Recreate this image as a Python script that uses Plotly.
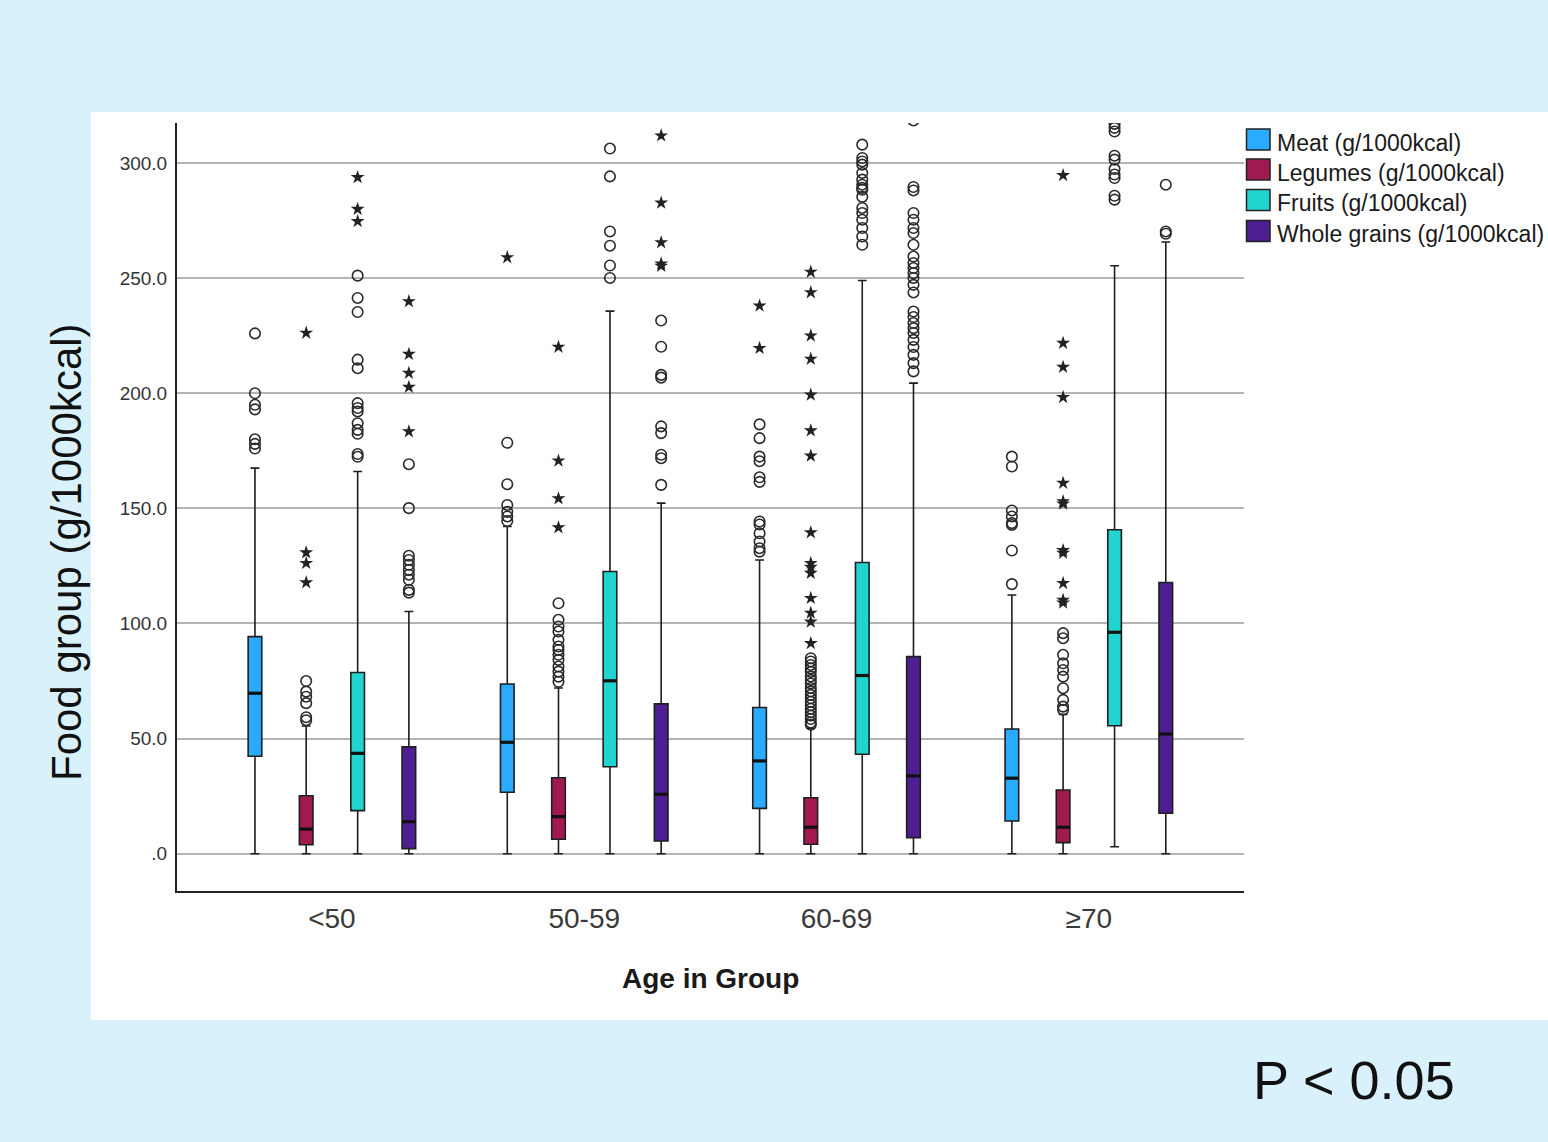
import plotly.graph_objects as go

# ---------------- data ----------------
groups = ['<50', '50-59', '60-69', '≥70']
series = ['Meat (g/1000kcal)', 'Legumes (g/1000kcal)', 'Fruits (g/1000kcal)', 'Whole grains (g/1000kcal)']
colors = ['#2aabff', '#a01a50', '#22d4cf', '#4e1f93']

meat_q1 = [42.3, 26.7, 19.7, 14.2]
meat_med = [69.7, 48.4, 40.3, 32.8]
meat_q3 = [94.3, 73.7, 63.5, 54.2]
meat_lo = [0, 0, 0, 0]
meat_hi = [167.5, 142.1, 127.6, 112.4]
meat_out = [[226, 200, 195, 193, 180, 178, 176],
            [178.5, 160.5, 151.5, 148.5, 146.5, 144.5],
            [186.5, 180.5, 172.5, 170.5, 163.5, 161.5, 144.3, 143, 139.2, 135.6, 132.7, 131.2],
            [172.5, 168.2, 149.1, 146.5, 143.6, 142.8, 131.7, 117.1]]
meat_ext = [[], [259], [238, 219.6], []]

leg_q1 = [3.9, 6.3, 4.1, 4.8]
leg_med = [10.7, 16.1, 11.5, 11.5]
leg_q3 = [25.2, 33.0, 24.3, 27.7]
leg_lo = [0, 0, 0, 0]
leg_hi = [55.5, 72.0, 54.5, 60.5]
leg_out = [[75, 70.4, 68.2, 65.4, 59.3, 58],
           [108.8, 101.6, 98.7, 96.5, 92.9, 90, 88.5, 86.4, 84.2, 81.3, 79.1, 76.9, 74.7],
           [84.9, 83.5, 82, 80.5, 79, 77, 75.5, 74, 72, 70.5, 69, 67.5, 66, 64.5, 63, 61.5, 60, 58.5, 57, 56],
           [95.8, 93.6, 86.4, 82.7, 79.8, 76.9, 71.9, 66.8, 63.9, 62.5]]
leg_ext = [[226.2, 130.8, 126.2, 117.8],
           [220.1, 170.7, 154.3, 141.7],
           [252.7, 243.8, 225, 214.9, 199.3, 183.8, 172.8, 139.5, 126.2, 124.5, 121.9, 111, 104.6, 100.7, 91.4],
           [294.7, 221.8, 211.4, 198.3, 161, 153, 152, 131.8, 130.6, 117.5, 110.2, 109]]

fru_q1 = [18.7, 37.8, 43.2, 55.6]
fru_med = [43.6, 75.1, 77.4, 96.2]
fru_q3 = [78.7, 122.6, 126.5, 140.7]
fru_lo = [0, 0, 0, 3.0]
fru_hi = [166.0, 235.7, 249.0, 255.4]
fru_out = [[251.1, 241.4, 235.3, 214.6, 210.9, 195.7, 193.6, 192.1, 187, 184.1, 182.4, 173.6, 172.4],
           [306.3, 294.2, 270.3, 264.1, 255.5, 250.1],
           [308, 302.2, 300.7, 299.3, 295.7, 292.8, 290.6, 289.2, 288.4, 285.3, 280.5, 278.3, 275.4, 271.8, 268.1, 264.5],
           [317, 315.3, 313.7, 303.2, 301.5, 297.4, 295, 293.5, 285.8, 284.1]]
fru_ext = [[293.8, 280.0, 274.7], [], [], []]

wg_q1 = [2.2, 5.5, 7.0, 17.6]
wg_med = [13.9, 25.8, 33.8, 52.0]
wg_q3 = [46.4, 65.1, 85.6, 117.8]
wg_lo = [0, 0, 0, 0]
wg_hi = [105.2, 152.3, 204.4, 265.7]
wg_out = [[169.2, 150.1, 129.4, 127.6, 125.5, 123.3, 121.2, 119, 114.6, 113.4],
          [231.6, 220.2, 208, 206.8, 185.6, 182.7, 173.3, 171.8, 160.2],
          [318.5, 289.6, 288.1, 278.3, 275.4, 271.8, 269.6, 264.5, 259.4, 256.6, 254.4, 252.2, 250.1,
           247.1, 243.8, 235.5, 233.1, 230.5, 228.3, 226.2, 223.2, 220.1, 216.7, 213.1, 209.5],
          [290.6, 270.3, 269.3]]
wg_ext = [[239.9, 217, 208.8, 202.7, 183.4], [311.9, 282.7, 265.5, 256.3, 255.3], [], []]

y_tickvals = [0, 50, 100, 150, 200, 250, 300]
y_ticktext = ['.0', '50.0', '100.0', '150.0', '200.0', '250.0', '300.0']

stats = [
    (meat_q1, meat_med, meat_q3, meat_lo, meat_hi, meat_out, meat_ext),
    (leg_q1, leg_med, leg_q3, leg_lo, leg_hi, leg_out, leg_ext),
    (fru_q1, fru_med, fru_q3, fru_lo, fru_hi, fru_out, fru_ext),
    (wg_q1, wg_med, wg_q3, wg_lo, wg_hi, wg_out, wg_ext),
]

# ---------------- layout geometry ----------------
W, H = 1548, 1142
PL, PR, PT, PB = 177, 1244, 123, 891
def px(x):
    return (x - PL) / (PR - PL)
def py(y):
    return (PB - y) / (PB - PT)

offsets = [-0.305, -0.102, 0.102, 0.305]
box_w = 0.054
LINE = '#1e1e1e'

fig = go.Figure()
gx = list(range(len(groups)))
for si, (q1, med, q3, lo, hi, out, ext) in enumerate(stats):
    xs = [g + offsets[si] for g in gx]
    fig.add_trace(go.Box(
        x=xs, q1=q1, median=med, q3=q3, lowerfence=lo, upperfence=hi,
        width=box_w, whiskerwidth=0.65, fillcolor=colors[si],
        line=dict(color=LINE, width=1.6), boxpoints=False,
        name=series[si], showlegend=False, hoverinfo='skip'))
    # thick median line
    mx, my = [], []
    for x, m in zip(xs, med):
        mx += [x - box_w / 2, x + box_w / 2, None]
        my += [m, m, None]
    fig.add_trace(go.Scatter(x=mx, y=my, mode='lines', line=dict(color='#111', width=3.2),
                             showlegend=False, hoverinfo='skip'))
    # outliers (circles)
    ox, oy = [], []
    for x, vals in zip(xs, out):
        ox += [x] * len(vals)
        oy += vals
    fig.add_trace(go.Scatter(x=ox, y=oy, mode='markers',
                             marker=dict(symbol='circle-open', size=10.5, color='#2a2a2a',
                                         line=dict(width=1.6, color='#2a2a2a')),
                             showlegend=False, hoverinfo='skip'))
    # extremes (stars)
    ex, ey = [], []
    for x, vals in zip(xs, ext):
        ex += [x] * len(vals)
        ey += vals
    if ex:
        fig.add_trace(go.Scatter(x=ex, y=ey, mode='markers',
                                 marker=dict(symbol='star', size=10.5, color='#222',
                                             line=dict(width=0)),
                                 showlegend=False, hoverinfo='skip'))

shapes = [
    # white slide panel
    dict(type='rect', xref='paper', yref='paper', x0=px(91), x1=px(1560), y0=py(1020), y1=py(112),
         fillcolor='white', line=dict(width=0), layer='below'),
]
annotations = []
# manual legend
leg_rows = [139.5, 169.5, 200, 231]
for i, (name, col) in enumerate(zip(series, colors)):
    yc = leg_rows[i]
    shapes.append(dict(type='rect', xref='paper', yref='paper',
                       x0=px(1246.5), x1=px(1270), y0=py(yc + 10.5), y1=py(yc - 10.5),
                       fillcolor=col, line=dict(color='#222', width=1.5), layer='above'))
    annotations.append(dict(text=name, xref='paper', yref='paper', x=px(1275), y=py(yc + 3),
                            xanchor='left', yanchor='middle', showarrow=False,
                            font=dict(family='Liberation Sans, Arial', size=23, color='#1a1a1a')))

# axis titles
annotations.append(dict(text='Age in Group', xref='paper', yref='paper', x=0.5, y=py(978),
                        xanchor='center', yanchor='middle', showarrow=False,
                        font=dict(family='Liberation Sans, Arial', size=28, color='#1a1a1a', weight='bold')))
annotations.append(dict(text='Food group (g/1000kcal)', xref='paper', yref='paper', x=px(66), y=py(552),
                        xanchor='center', yanchor='middle', showarrow=False, textangle=-90,
                        font=dict(family='Liberation Sans, Arial', size=42, color='#111')))
annotations.append(dict(text='P < 0.05', xref='paper', yref='paper', x=px(1354), y=py(1080),
                        xanchor='center', yanchor='middle', showarrow=False,
                        font=dict(family='Liberation Sans, Arial', size=54, color='#111')))

fig.update_layout(
    width=W, height=H,
    margin=dict(l=PL, r=W - PR, t=PT, b=H - PB, pad=0),
    paper_bgcolor='#d8f1fb', plot_bgcolor='white',
    showlegend=False,
    shapes=shapes, annotations=annotations,
    font=dict(family='Liberation Sans, Arial', color='#222'),
)
fig.update_xaxes(range=[-0.614, 3.615], tickvals=gx, ticktext=groups, showgrid=False, zeroline=False,
                 showline=True, linecolor='#222', linewidth=2, ticks='', ticklabelstandoff=1,
                 tickfont=dict(family='Liberation Sans, Arial', size=28, color='#3a3a3a'))
fig.update_yaxes(range=[-16.2, 317.4], tickvals=y_tickvals, ticktext=y_ticktext, showgrid=True,
                 gridcolor='#b4b4b4', gridwidth=1.5, zeroline=False,
                 showline=True, linecolor='#222', linewidth=2, ticks='', ticklabelstandoff=4,
                 tickfont=dict(family='Liberation Sans, Arial', size=19, color='#333'))

fig.write_html('out.html', config={'displayModeBar': False},
               post_script="document.body.style.margin='0px';document.body.style.overflow='hidden';")
